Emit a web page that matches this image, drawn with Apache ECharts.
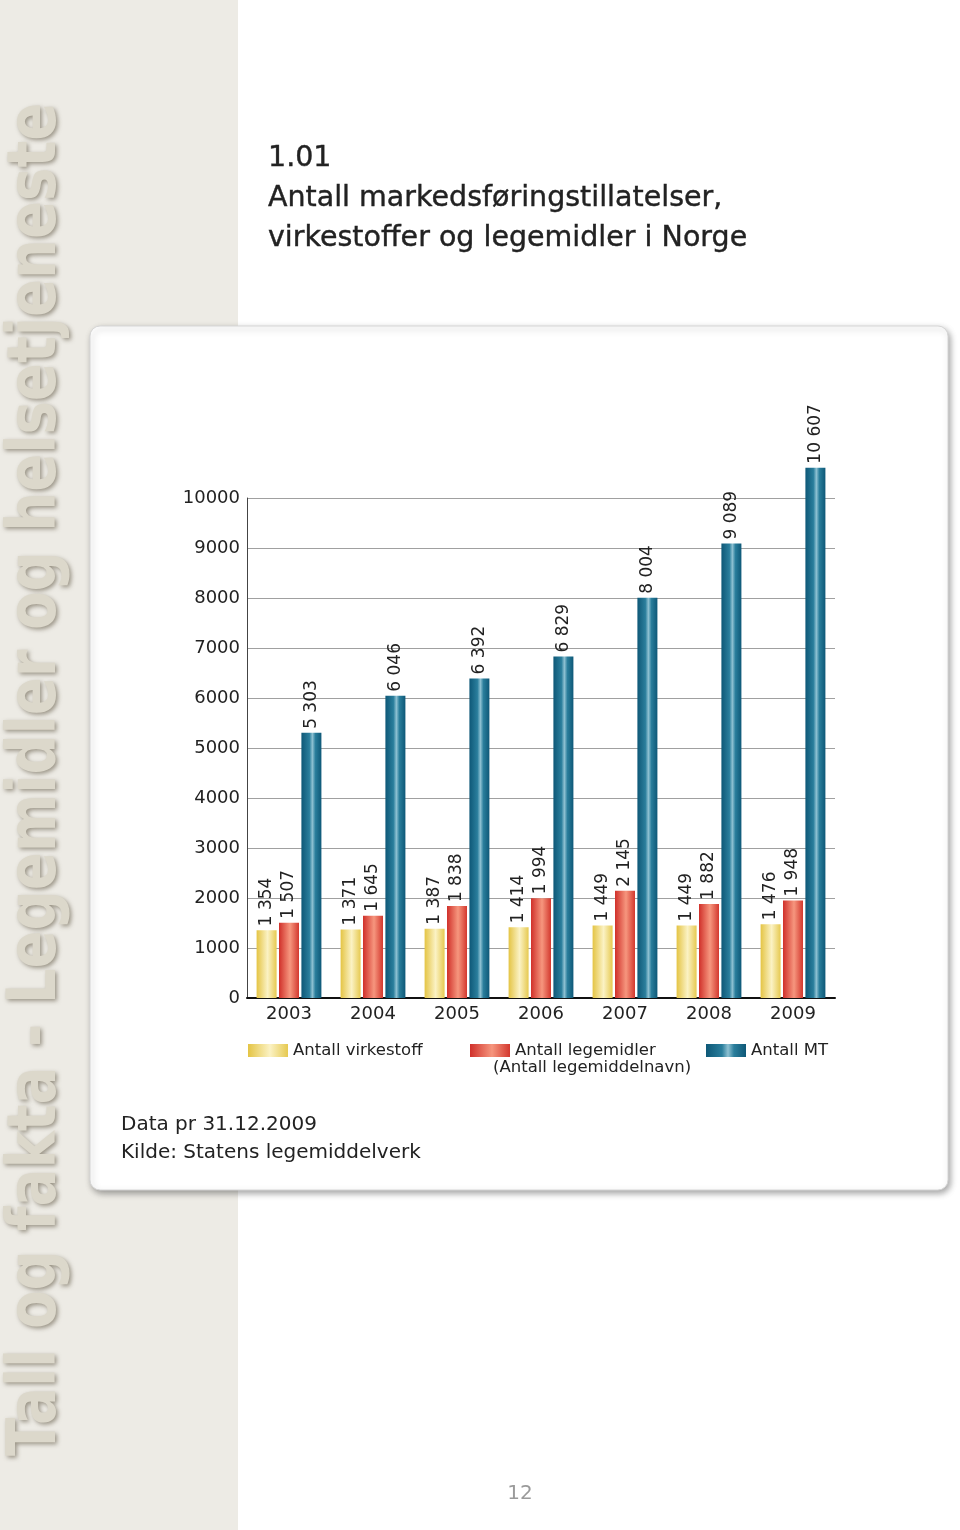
<!DOCTYPE html>
<html>
<head>
<meta charset="utf-8">
<script src="https://cdn.jsdelivr.net/npm/echarts@6/dist/echarts.min.js"></script>
<style>html,body{margin:0;padding:0;background:#fff}#c{width:960px;height:1530px}</style>
</head>
<body>
<div id="c"></div>
<script>
const years = ['2003','2004','2005','2006','2007','2008','2009'];
const virkestoff = [1354,1371,1387,1414,1449,1449,1476];
const legemidler = [1507,1645,1838,1994,2145,1882,1948];
const antallMT = [5303,6046,6392,6829,8004,9089,10607];
const seriesNames = ['Antall virkestoff','Antall legemidler','Antall MT'];

const FONT = 'DejaVu Sans';
const fmt = v => String(v).replace(/\B(?=(\d{3})+(?!\d))/g, ' ');
const grad = stops => ({type:'linear',x:0,y:0,x2:1,y2:0,colorStops:stops.map(s=>({offset:s[0],color:s[1]}))});
const colors = [
  grad([[0,'#e4c444'],[0.55,'#fbf2c4'],[1,'#e6c950']]),
  grad([[0,'#d0302a'],[0.55,'#f6967e'],[1,'#d3382e']]),
  grad([[0,'#0e5877'],[0.4,'#2a7e9c'],[0.55,'#8ec1d2'],[0.7,'#2a7e9c'],[1,'#0e5877']])
];
const label = {show:true, position:'top', rotate:90, align:'left', verticalAlign:'middle', distance:4,
  fontFamily:FONT, fontSize:17, color:'#222', formatter:p=>fmt(p.value)};

const mk = (name, data, i) => ({name, type:'bar', data, barWidth:20, barGap:'12%', clip:false,
  itemStyle:{color:colors[i]}, label, z:3});

const legendBase = {top:1042, padding:0, itemWidth:40, itemHeight:13, itemGap:6, icon:'rect',
  textStyle:{fontFamily:FONT, fontSize:16.5, color:'#222'}};

const chart = echarts.init(document.getElementById('c'), null, {renderer:'canvas'});
chart.setOption({
  backgroundColor:'#ffffff',
  animation:false,
  grid:{left:247, right:125, top:498, bottom:532},
  xAxis:{type:'category', data:years,
    axisLine:{lineStyle:{color:'#111', width:2}},
    axisTick:{length:10, lineStyle:{color:'#111', width:1.5}},
    axisLabel:{fontFamily:FONT, fontSize:18, color:'#222', margin:7}},
  yAxis:{type:'value', min:0, max:10000, interval:1000,
    axisLine:{show:true, lineStyle:{color:'#444', width:1}},
    axisTick:{show:false},
    splitLine:{lineStyle:{color:'#a0a0a0', width:1}},
    axisLabel:{fontFamily:FONT, fontSize:18, color:'#222', margin:7, formatter:v=>String(v)}},
  legend:[
    Object.assign({data:[seriesNames[0]], left:248}, legendBase),
    Object.assign({data:[seriesNames[1]], left:470}, legendBase),
    Object.assign({data:[seriesNames[2]], left:706}, legendBase)
  ],
  series:[mk(seriesNames[0], virkestoff, 0), mk(seriesNames[1], legemidler, 1), mk(seriesNames[2], antallMT, 2)],
  graphic:[
    {type:'rect', z:-20, silent:true, shape:{x:0,y:0,width:238,height:1530}, style:{fill:'#edebe5'}},
    {type:'text', z:-15, silent:true, x:37, y:1456, rotation:Math.PI/2, scaleX:0.825,
      style:{text:'Tall og fakta - Legemidler og helsetjeneste', fontFamily:FONT, fontWeight:'bold', fontSize:68,
        fill:'#dcd8cb', align:'left', verticalAlign:'middle',
        textShadowColor:'rgba(90,80,60,0.55)', textShadowBlur:4, textShadowOffsetX:2, textShadowOffsetY:2}},
    {type:'rect', z:-10, silent:true, shape:{x:90,y:326,width:858,height:864,r:10},
      style:{fill:'#ffffff', stroke:'#d6d6d6', lineWidth:1, shadowColor:'rgba(0,0,0,0.35)', shadowBlur:6, shadowOffsetX:2, shadowOffsetY:3}},
    {type:'text', silent:true, x:268, y:159, style:{text:'1.01', fontFamily:FONT, fontSize:28.5, fill:'#222', verticalAlign:'middle', stroke:'#222', lineWidth:0.4}},
    {type:'text', silent:true, x:268, y:199, style:{text:'Antall markedsføringstillatelser,', fontFamily:FONT, fontSize:28.5, fill:'#222', verticalAlign:'middle', stroke:'#222', lineWidth:0.4}},
    {type:'text', silent:true, x:268, y:239, style:{text:'virkestoffer og legemidler i Norge', fontFamily:FONT, fontSize:28.5, fill:'#222', verticalAlign:'middle', stroke:'#222', lineWidth:0.4}},
    {type:'text', silent:true, x:493, y:1068, style:{text:'(Antall legemiddelnavn)', fontFamily:FONT, fontSize:16.5, fill:'#222', verticalAlign:'middle'}},
    {type:'text', silent:true, x:121, y:1125, style:{text:'Data pr 31.12.2009', fontFamily:FONT, fontSize:20, fill:'#222', verticalAlign:'middle'}},
    {type:'text', silent:true, x:121, y:1153, style:{text:'Kilde: Statens legemiddelverk', fontFamily:FONT, fontSize:20, fill:'#222', verticalAlign:'middle'}},
    {type:'text', silent:true, x:520, y:1494, style:{text:'12', fontFamily:FONT, fontSize:20, fill:'#9a9a9a', align:'center', verticalAlign:'middle'}}
  ]
});
</script>
</body>
</html>
